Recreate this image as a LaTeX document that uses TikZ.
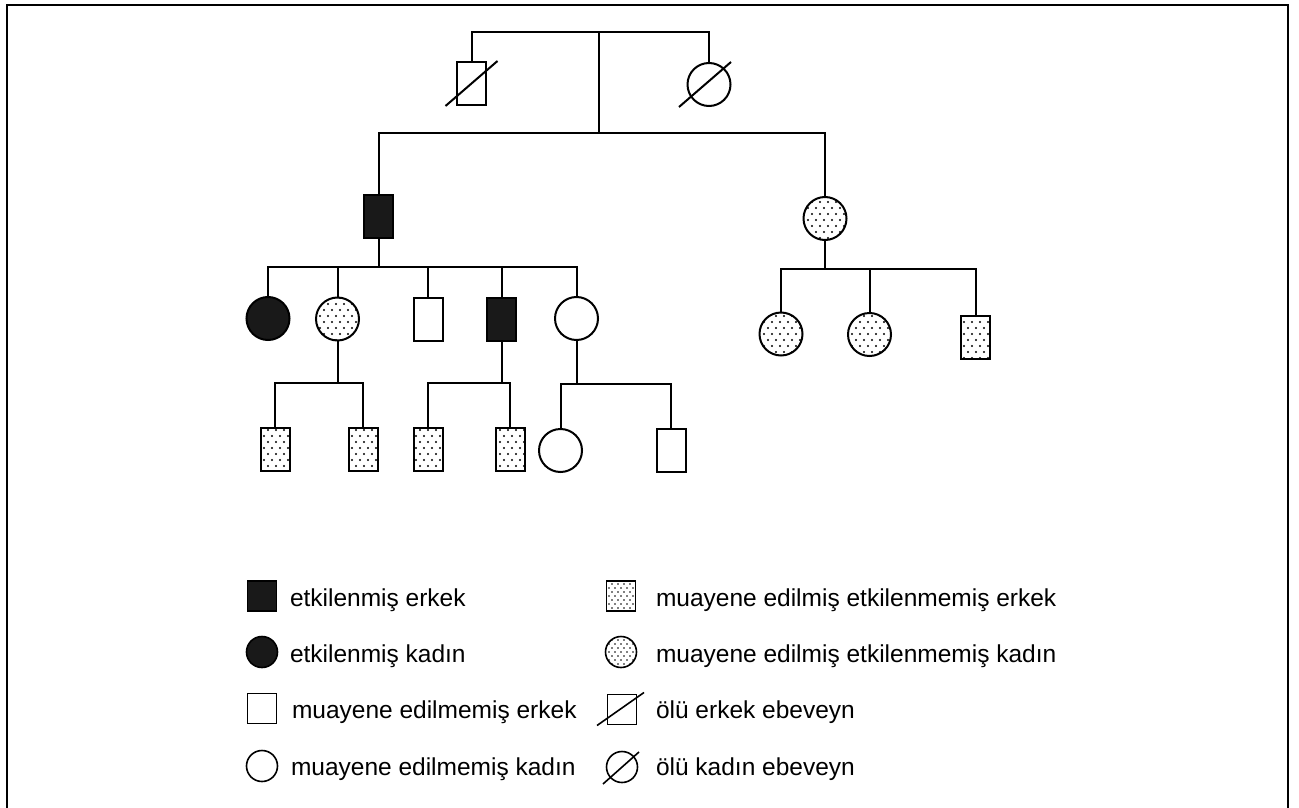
\documentclass[tikz,border=0pt]{standalone}
\usepackage{fontspec}
\setmainfont{Liberation Sans}
\usetikzlibrary{patterns}

% sparse dots for examined, unaffected persons
\pgfdeclarepatternformonly{pedidots}{\pgfqpoint{-1.5pt}{-1.5pt}}{\pgfqpoint{5.5pt}{7.5pt}}{\pgfqpoint{8pt}{12pt}}{%
  \pgfpathcircle{\pgfqpoint{0pt}{0pt}}{1.1pt}%
  \pgfpathcircle{\pgfqpoint{4pt}{6pt}}{1.1pt}%
  \pgfusepath{fill}}
\pgfdeclarepatternformonly{keydots}{\pgfqpoint{-1pt}{-1pt}}{\pgfqpoint{4pt}{5pt}}{\pgfqpoint{6pt}{8pt}}{%
  \pgfpathcircle{\pgfqpoint{0pt}{0pt}}{0.85pt}%
  \pgfpathcircle{\pgfqpoint{3pt}{4pt}}{0.85pt}%
  \pgfusepath{fill}}

\begin{document}
\begin{tikzpicture}[x=1pt, y=-1pt, line width=2pt,
    person/.style={draw, inner sep=0pt, outer sep=0pt},
    male/.style={person, rectangle, minimum width=29pt, minimum height=43pt},
    female/.style={person, circle, minimum size=43pt},
    affected/.style={fill=black!90},
    examined/.style={pattern=pedidots},
    keymale/.style={person, line width=1.6pt, rectangle, minimum width=29pt, minimum height=30pt},
    keyfemale/.style={person, line width=1.6pt, circle, minimum size=31pt},
    keytext/.style={anchor=base west, inner sep=0pt, font=\fontsize{24.5}{29}\selectfont}]
    \useasboundingbox (0,0) rectangle (1299,808);

    % Frame
    \draw[line width=2pt] (7,808) -- (7,5) -- (1288,5) -- (1288,808);

    % Generation I
    \node[male] (dm) at (471.5,83.5) {};
    \node[female] (df) at (709,84.5) {};
    \draw (dm.center) ++(-26,22.5) -- ++(52,-45);
    \draw (df.center) ++(-30,22.5) -- ++(52,-45);
    \coordinate (mate) at (599,32);
    \coordinate (sibII) at (599,133);
    \draw (dm.north) |- (mate) -| (df.north);
    \draw (mate) -- (sibII);

    % Generation II
    \node[male, affected] (ii1) at (378.5,216.5) {};
    \node[female, examined] (ii2) at (825,218.5) {};
    \draw (ii1.north) |- (sibII) -| (ii2.north);

    % Generation III, left family
    \node[female, affected] (iii1) at (268,318.5) {};
    \node[female, examined] (iii2) at (337.5,319) {};
    \node[male] (iii3) at (428,319.5) {};
    \node[male, affected] (iii4) at (501.5,319.5) {};
    \node[female] (iii5) at (576.5,318.5) {};
    \coordinate (sibIIIa) at (378.5,267);
    \draw (ii1.south) -- (sibIIIa);
    \draw (iii1.north) |- (sibIIIa) -| (iii5.north);
    \foreach \n in {iii2,iii3,iii4}
        \draw (\n.north) -- (\n.north |- sibIIIa);

    % Generation III, right family
    \node[female, examined] (iii6) at (781,334) {};
    \node[female, examined] (iii7) at (869.5,334.5) {};
    \node[male, examined] (iii8) at (975.5,337.5) {};
    \coordinate (sibIIIb) at (825,269);
    \draw (ii2.south) -- (sibIIIb);
    \draw (iii6.north) |- (sibIIIb) -| (iii8.north);
    \draw (iii7.north) -- (iii7.north |- sibIIIb);

    % Generation IV
    \node[male, examined] (iv1) at (275,449) {};
    \node[male, examined] (iv2) at (363,449) {};
    \node[male, examined] (iv3) at (428,449) {};
    \node[male, examined] (iv4) at (510,449) {};
    \node[female] (iv5) at (560.5,450.5) {};
    \node[male] (iv6) at (671,450.5) {};
    \coordinate (sibIVa) at (337.5,383);
    \coordinate (sibIVb) at (501.5,383);
    \coordinate (sibIVc) at (576.5,384);
    \draw (iii2.south) -- (sibIVa);
    \draw (iv1.north) |- (sibIVa) -| (iv2.north);
    \draw (iii4.south) -- (sibIVb);
    \draw (iv3.north) |- (sibIVb) -| (iv4.north);
    \draw (iii5.south) -- (sibIVc);
    \draw (iv5.north) |- (sibIVc) -| (iv6.north);

    % Legend, left column
    \node[keymale, affected] (k1) at (262,596) {};
    \node[keytext] (k1t) at (289,606) {etkilenmiş erkek};
    \node[keyfemale, affected] (k2) at (262,652) {};
    \node[keytext] (k2t) at (289,662) {etkilenmiş kadın};
    \node[keymale] (k3) at (262,708.5) {};
    \node[keytext] (k3t) at (291,718) {muayene edilmemiş erkek};
    \node[keyfemale] (k4) at (262,766) {};
    \node[keytext] (k4t) at (290,775) {muayene edilmemiş kadın};

    % Legend, right column
    \node[keymale, pattern=keydots] (k5) at (621,596) {};
    \node[keytext] (k5t) at (655,606) {muayene edilmiş etkilenmemiş erkek};
    \node[keyfemale, pattern=keydots] (k6) at (621,652) {};
    \node[keytext] (k6t) at (655,662) {muayene edilmiş etkilenmemiş kadın};
    \node[keymale] (k7) at (622,709.5) {};
    \draw[line width=1.6pt] (k7.center) ++(-25,16) -- ++(47,-33);
    \node[keytext] (k7t) at (655,718) {ölü erkek ebeveyn};
    \node[keyfemale] (k8) at (622,767) {};
    \draw[line width=1.6pt] (k8.center) ++(-19,17) -- ++(36,-32);
    \node[keytext] (k8t) at (655,775) {ölü kadın ebeveyn};
\end{tikzpicture}
\end{document}
